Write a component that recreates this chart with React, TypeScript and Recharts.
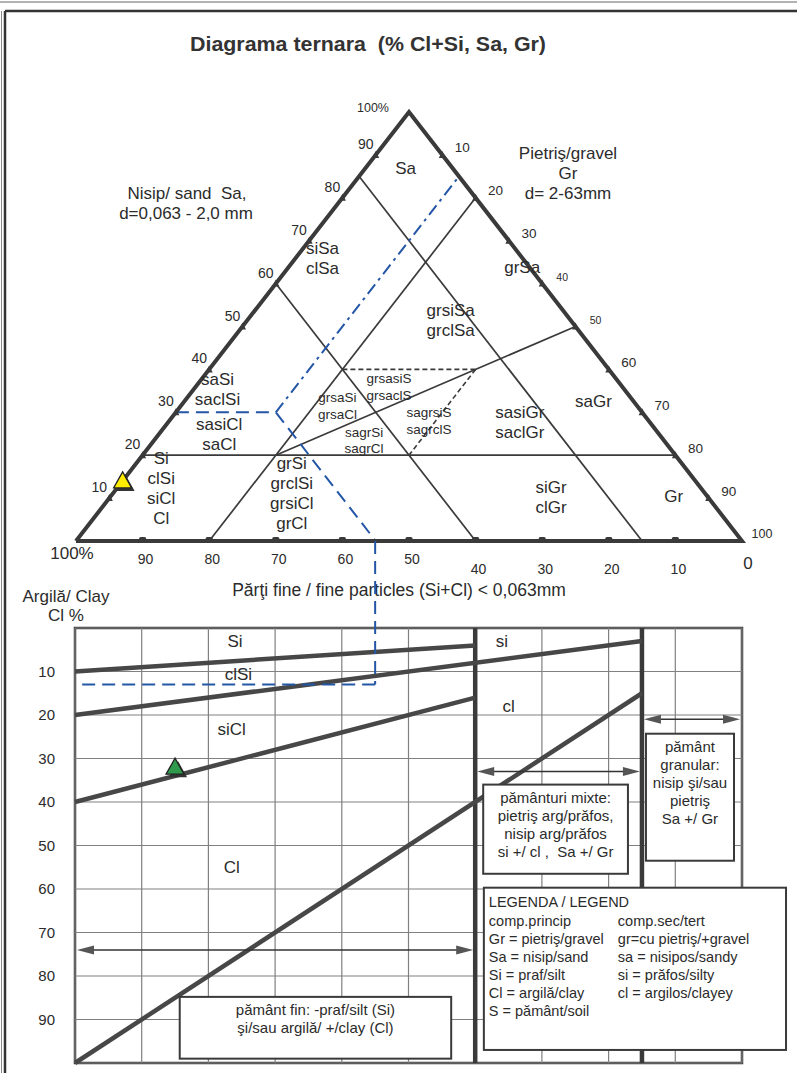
import React from 'react';
import {
  ComposedChart,
  Line,
  Scatter,
  XAxis,
  YAxis,
  ReferenceLine,
  ReferenceArea,
} from 'recharts';

const W = 797;
const H = 1073;
const FONT = '"Liberation Sans", Arial, Helvetica, sans-serif';
const INK = '#3a3a3a';
const TEXT = '#2b2b2b';
const GRID = '#808080';
const BLUE = '#2456a6';

// plot areas of the two diagrams (pixels)
const TRI = { left: 76, right: 742, top: 112, bottom: 541 };
const LOW = { left: 75, right: 742, top: 628, bottom: 1063 };

// ---------- ternary diagram, points are [fines Si+Cl %, sand Sa %, gravel Gr %]
type Tern = [number, number, number];

const triangleOutline: Tern[] = [[100, 0, 0], [0, 100, 0], [0, 0, 100], [100, 0, 0]];

const ternaryBounds: Tern[][] = [
  [[80, 20, 0], [0, 20, 80]], // Sa = 20
  [[80, 0, 20], [0, 80, 20]], // Gr = 20
  [[40, 60, 0], [40, 0, 60]], // Si+Cl = 40
  [[15, 85, 0], [15, 0, 85]], // Si+Cl = 15
  [[60, 20, 20], [0, 50, 50]], // Sa = Gr
];

const ternaryDashed: Tern[][] = [
  [[40, 40, 20], [20, 40, 40]],
  [[20, 40, 40], [40, 20, 40]],
];

// blue reading guides for the example sample
const guideDashDot: Tern[] = [[55, 30, 15], [0, 85, 15]];
const guideDashed: Tern[] = [[70, 30, 0], [55, 30, 15], [55, 0, 45]];
const sampleTernary: Tern[] = [[86, 14, 0]];

const edgeTicks = [10, 20, 30, 40, 50, 60, 70, 80, 90];
const gravelLabels = [10, 20, 30, 40, 50, 60, 70, 80, 90, 100];

const ternaryZones = [
  { at: [7, 87, 6] as Tern, lines: ['Sa'] },
  { at: [30, 66, 4] as Tern, lines: ['siSa', 'clSa'] },
  { at: [1, 64, 35] as Tern, lines: ['grSa'] },
  { at: [18, 51.5, 30.5] as Tern, lines: ['grsiSa', 'grclSa'] },
  { at: [61, 35.5, 3.5] as Tern, lines: ['saSi', 'saclSi'] },
  { at: [66, 25, 9] as Tern, lines: ['sasiCl', 'saCl'] },
  { at: [19.5, 27.7, 52.8] as Tern, lines: ['sasiGr', 'saclGr'] },
  { at: [6, 32.6, 61.4] as Tern, lines: ['saGr'] },
  { at: [81, 12.4, 6.6] as Tern, lines: ['Si', 'clSi', 'siCl', 'Cl'] },
  { at: [62, 11.2, 26.8] as Tern, lines: ['grSi', 'grclSi', 'grsiCl', 'grCl'] },
  { at: [23.5, 10.3, 66.2] as Tern, lines: ['siGr', 'clGr'] },
  { at: [5, 10.5, 84.5] as Tern, lines: ['Gr'] },
];

const ternaryMinorZones = [
  { at: [45, 31.5, 23.5] as Tern, lines: ['grsaSi', 'grsaCl'] },
  { at: [35, 36, 29] as Tern, lines: ['grsasiS', 'grsaclS'] },
  { at: [33, 28, 39] as Tern, lines: ['sagrsiS', 'sagrclS'] },
  { at: [45, 23.5, 31.5] as Tern, lines: ['sagrSi', 'sagrCl'] },
];

// ---------- lower diagram, points are [fines Si+Cl %, clay Cl %]
type Pt = [number, number];

const clayBounds: Pt[][] = [
  [[100, 10], [40, 4]],
  [[100, 20], [15, 3]],
  [[100, 40], [40, 16]],
  [[100, 100], [15, 15]],
];
const groupDividers = [40, 15];
const gridSteps = [0, 10, 20, 30, 40, 50, 60, 70, 80, 90, 100];
const clayTicks = [10, 20, 30, 40, 50, 60, 70, 80, 90];
const sampleClay: Pt[] = [[85, 32]];
const guideClay: Pt[] = [[55, 13], [99, 13]];

const spanArrows = [
  { from: 15, to: 0, clay: 21 },
  { from: 40, to: 15, clay: 33 },
  { from: 100, to: 40, clay: 74 },
];

const clayZones = [
  { at: [76, 3] as Pt, lines: ['Si'] },
  { at: [75.5, 10.5] as Pt, lines: ['clSi'] },
  { at: [76.5, 23.3] as Pt, lines: ['siCl'] },
  { at: [76.5, 55] as Pt, lines: ['Cl'] },
  { at: [36, 3] as Pt, lines: ['si'] },
  { at: [35, 18] as Pt, lines: ['cl'] },
];

const noteBoxes = [
  { fines: [38.8, 17.1], clay: [36, 56.5], lines: ['pământuri mixte:', 'pietriş arg/prăfos,', 'nisip arg/prăfos', 'si +/ cl ,  Sa +/ Gr'] },
  { fines: [14.4, 1.2], clay: [24.3, 53.5], lines: ['pământ', 'granular:', 'nisip şi/sau', 'pietriş', 'Sa +/ Gr'] },
  { fines: [84.3, 43.6], clay: [84.8, 99], lines: ['pământ fin: -praf/silt (Si)', 'şi/sau argilă/ +/clay (Cl)'] },
];

const legendBox = { fines: [38.7, -6.6], clay: [59.7, 97] };
const legendTitle = 'LEGENDA / LEGEND';
const legendRows = [
  ['comp.princip', 'comp.sec/tert'],
  ['Gr = pietriş/gravel', 'gr=cu pietriş/+gravel'],
  ['Sa = nisip/sand', 'sa = nisipos/sandy'],
  ['Si = praf/silt', 'si = prăfos/silty'],
  ['Cl = argilă/clay', 'cl = argilos/clayey'],
  ['S = pământ/soil', ''],
];

// ---------- helpers
const toXY = ([, sa, gr]: Tern) => ({ x: gr + sa / 2, y: sa });
const path = (pts: Tern[]) => pts.map(toXY);
const flat = (pts: Pt[]) => pts.map(([x, y]) => ({ x, y }));
const connectorClay = ((TRI.bottom - LOW.top) / (LOW.bottom - LOW.top)) * 100;

const leftTicks = edgeTicks.map((v) => ({ ...toXY([100 - v, v, 0]), label: String(v), v }));
const baseTicks = edgeTicks.map((v) => ({ ...toXY([v, 0, 100 - v]), label: String(v), v }));
const rightTicks = edgeTicks.map((v) => ({ ...toXY([0, 100 - v, v]), label: String(v), v }));
const rightLabels = gravelLabels.map((v) => ({ ...toXY([0, 100 - v, v]), label: String(v), v }));

const txt = { fontFamily: FONT, fill: TEXT };

function ZoneText(props: any) {
  const { cx, cy, payload, size, gap } = props;
  const lines: string[] = payload.lines;
  const top = cy - ((lines.length - 1) * gap) / 2;
  return (
    <text textAnchor="middle" fontSize={size} {...txt}>
      {lines.map((t, i) => (
        <tspan key={i} x={cx} y={top + i * gap} dy="0.36em">
          {t}
        </tspan>
      ))}
    </text>
  );
}

function EdgeMark(props: any) {
  const { cx, cy } = props;
  return <polygon points={`${cx - 3.5},${cy + 3} ${cx + 3.5},${cy + 3} ${cx},${cy - 4}`} fill={INK} />;
}

function BaseMark(props: any) {
  const { cx, cy } = props;
  return <rect x={cx - 3.5} y={cy - 4} width={7} height={5} rx={1.5} fill={INK} />;
}

const tickText = (dx: number, dy: (v: number) => number, size: (v: number) => number) => (props: any) => (
  <text
    x={props.cx + dx}
    y={props.cy + dy(props.payload.v)}
    textAnchor="middle"
    dominantBaseline="central"
    fontSize={size(props.payload.v)}
    {...txt}
  >
    {props.payload.label}
  </text>
);

const cornerText = (label: string, dx: number, dy: number, size: number) => (props: any) => (
  <text x={props.cx + dx} y={props.cy + dy} textAnchor="middle" dominantBaseline="central" fontSize={size} {...txt}>
    {label}
  </text>
);

function Marker(props: any) {
  const { cx, cy, color } = props;
  const tri = (dx: number, dy: number) =>
    `${cx + dx - 9},${cy + dy + 7} ${cx + dx + 9},${cy + dy + 7} ${cx + dx},${cy + dy - 9}`;
  return (
    <g>
      <polygon points={tri(3, 3)} fill="#333" />
      <polygon points={tri(0, 0)} fill={color} stroke="#222" strokeWidth={1.3} />
    </g>
  );
}

function DoubleArrow(props: any) {
  const { x1, y1, x2 } = props;
  const l = Math.min(x1, x2) + 2;
  const r = Math.max(x1, x2) - 2;
  const y = y1;
  const head = 17;
  return (
    <g>
      <line x1={l + head - 2} y1={y} x2={r - head + 2} y2={y} stroke="#333" strokeWidth={1.5} />
      <polygon points={`${l},${y} ${l + head},${y - 4.5} ${l + head},${y + 4.5}`} fill="#555" />
      <polygon points={`${r},${y} ${r - head},${y - 4.5} ${r - head},${y + 4.5}`} fill="#555" />
    </g>
  );
}

const noteShape = (lines: string[]) => (props: any) => {
  const { x, y, width, height } = props;
  return (
    <g>
      <rect x={x} y={y} width={width} height={height} fill="#fff" stroke={INK} strokeWidth={2} />
      <text textAnchor="middle" fontSize={15} {...txt}>
        {lines.map((t, i) => (
          <tspan key={i} x={x + width / 2} y={y + 13 + i * 18} dy="0.36em" style={{ whiteSpace: 'pre' }}>
            {t}
          </tspan>
        ))}
      </text>
    </g>
  );
};

function LegendShape(props: any) {
  const { x, y, width, height } = props;
  return (
    <g>
      <rect x={x} y={y} width={width} height={height} fill="#fff" stroke={INK} strokeWidth={2} />
      <text x={x + 5} y={y + 14} dy="0.36em" fontSize={14.5} {...txt}>
        {legendTitle}
      </text>
      {legendRows.map((row, i) => (
        <g key={i}>
          <text x={x + 5} y={y + 33 + i * 18} dy="0.36em" fontSize={14.5} {...txt}>
            {row[0]}
          </text>
          <text x={x + 134} y={y + 33 + i * 18} dy="0.36em" fontSize={14.5} {...txt}>
            {row[1]}
          </text>
        </g>
      ))}
    </g>
  );
}

function TernaryChart() {
  const lineProps = { type: 'linear' as const, dataKey: 'y', dot: false, activeDot: false, isAnimationActive: false };
  return (
    <ComposedChart
      width={W}
      height={H}
      margin={{ top: TRI.top, right: W - TRI.right, bottom: H - TRI.bottom, left: TRI.left }}
    >
      <XAxis type="number" dataKey="x" domain={[0, 100]} hide />
      <YAxis type="number" dataKey="y" domain={[0, 100]} hide />
      {ternaryBounds.map((seg, i) => (
        <Line key={`b${i}`} {...lineProps} data={path(seg)} stroke={INK} strokeWidth={1.7} />
      ))}
      {ternaryDashed.map((seg, i) => (
        <Line key={`d${i}`} {...lineProps} data={path(seg)} stroke={INK} strokeWidth={1.6} strokeDasharray="5 3" />
      ))}
      <Line {...lineProps} data={path(guideDashDot)} stroke={BLUE} strokeWidth={2} strokeDasharray="12 5 3 5" />
      <Line {...lineProps} data={path(guideDashed)} stroke={BLUE} strokeWidth={2} strokeDasharray="13 7" />
      <Line {...lineProps} data={path(triangleOutline)} stroke={INK} strokeWidth={4} strokeLinejoin="miter" />

      <Scatter data={leftTicks} shape={EdgeMark} isAnimationActive={false} />
      <Scatter data={rightTicks} shape={EdgeMark} isAnimationActive={false} />
      <Scatter data={baseTicks} shape={BaseMark} isAnimationActive={false} />
      <Scatter data={leftTicks} shape={tickText(-10, () => -11, () => 14)} isAnimationActive={false} />
      <Scatter
        data={rightLabels}
        shape={tickText(20, () => -7, (v) => (v === 40 || v === 50 ? 10.5 : v === 100 ? 12.5 : 13.5))}
        isAnimationActive={false}
      />
      <Scatter data={baseTicks} shape={tickText(3, (v) => (v >= 50 ? 18 : 28), () => 14)} isAnimationActive={false} />
      <Scatter data={path([[0, 100, 0]])} shape={cornerText('100%', -36, -4, 12.5)} isAnimationActive={false} />
      <Scatter data={path([[100, 0, 0]])} shape={cornerText('100%', -4, 12, 17)} isAnimationActive={false} />
      <Scatter data={path([[0, 0, 100]])} shape={cornerText('0', 6, 22, 17)} isAnimationActive={false} />

      <Scatter
        data={ternaryZones.map((z) => ({ ...toXY(z.at), lines: z.lines }))}
        shape={(p: any) => <ZoneText {...p} size={17} gap={20} />}
        isAnimationActive={false}
      />
      <Scatter
        data={ternaryMinorZones.map((z) => ({ ...toXY(z.at), lines: z.lines }))}
        shape={(p: any) => <ZoneText {...p} size={13.5} gap={16.5} />}
        isAnimationActive={false}
      />
      <Scatter data={path(sampleTernary)} shape={(p: any) => <Marker {...p} color="#ffec00" />} isAnimationActive={false} />
    </ComposedChart>
  );
}

function ClayChart() {
  const lineProps = { type: 'linear' as const, dataKey: 'y', dot: false, activeDot: false, isAnimationActive: false };
  return (
    <ComposedChart
      width={W}
      height={H}
      margin={{ top: LOW.top, right: W - LOW.right, bottom: H - LOW.bottom, left: LOW.left - 50 }}
    >
      <XAxis type="number" dataKey="x" domain={[0, 100]} reversed hide />
      <YAxis
        type="number"
        dataKey="y"
        domain={[0, 100]}
        reversed
        ticks={clayTicks}
        interval={0}
        width={50}
        axisLine={false}
        tickLine={false}
        tickSize={0}
        tickMargin={20}
        tick={{ fontSize: 15, fill: TEXT, fontFamily: FONT }}
      />
      {gridSteps.map((v) => (
        <ReferenceLine key={`gx${v}`} x={v} stroke={GRID} strokeWidth={1.2} ifOverflow="visible" />
      ))}
      {gridSteps.map((v) => (
        <ReferenceLine key={`gy${v}`} y={v} stroke={GRID} strokeWidth={1.2} ifOverflow="visible" />
      ))}
      <ReferenceArea x1={100} x2={0} y1={0} y2={100} fill="none" fillOpacity={0} stroke={INK} strokeWidth={2.5} ifOverflow="visible" />
      {groupDividers.map((v) => (
        <ReferenceLine key={`div${v}`} x={v} stroke={INK} strokeWidth={4.5} ifOverflow="visible" />
      ))}
      {clayBounds.map((seg, i) => (
        <Line key={`c${i}`} {...lineProps} data={flat(seg)} stroke="#474747" strokeWidth={4.5} />
      ))}
      <ReferenceLine
        segment={[{ x: guideClay[0][0], y: connectorClay }, { x: guideClay[0][0], y: guideClay[0][1] }]}
        stroke={BLUE}
        strokeWidth={2}
        strokeDasharray="13 7"
        ifOverflow="visible"
      />
      <ReferenceLine
        segment={[{ x: guideClay[0][0], y: guideClay[0][1] }, { x: guideClay[1][0], y: guideClay[1][1] }]}
        stroke={BLUE}
        strokeWidth={2}
        strokeDasharray="13 7"
        ifOverflow="visible"
      />
      {spanArrows.map((a, i) => (
        <ReferenceLine
          key={`a${i}`}
          segment={[{ x: a.from, y: a.clay }, { x: a.to, y: a.clay }]}
          shape={DoubleArrow}
          ifOverflow="visible"
        />
      ))}
      <Scatter
        data={clayZones.map((z) => ({ x: z.at[0], y: z.at[1], lines: z.lines }))}
        shape={(p: any) => <ZoneText {...p} size={17} gap={20} />}
        isAnimationActive={false}
      />
      {noteBoxes.map((b, i) => (
        <ReferenceArea
          key={`n${i}`}
          x1={b.fines[0]}
          x2={b.fines[1]}
          y1={b.clay[0]}
          y2={b.clay[1]}
          shape={noteShape(b.lines)}
          ifOverflow="visible"
          zIndex={900}
        />
      ))}
      <ReferenceArea
        x1={legendBox.fines[0]}
        x2={legendBox.fines[1]}
        y1={legendBox.clay[0]}
        y2={legendBox.clay[1]}
        shape={LegendShape}
        ifOverflow="visible"
        zIndex={900}
      />
      <Scatter data={flat(sampleClay)} shape={(p: any) => <Marker {...p} color="#2f9a4c" />} isAnimationActive={false} />
    </ComposedChart>
  );
}

export default function App() {
  const t = { fontFamily: FONT, fill: TEXT, textAnchor: 'middle' as const, dominantBaseline: 'central' as const };
  return (
    <div style={{ position: 'absolute', left: 0, top: 0, width: W, height: H, background: '#fff', overflow: 'hidden' }}>
      <svg width={W} height={H} style={{ position: 'absolute', left: 0, top: 0 }}>
        <line x1={0} y1={2} x2={W} y2={2} stroke="#666" strokeWidth={1} />
        <line x1={5} y1={11} x2={W} y2={11} stroke="#333" strokeWidth={2.5} />
        <line x1={5} y1={11} x2={5} y2={H} stroke="#333" strokeWidth={2.5} />
        <line x1={1.5} y1={11} x2={1.5} y2={H} stroke="#888" strokeWidth={1} />
        <text x={368} y={44} {...t} fontSize={20} fontWeight="bold" fill="#333" textLength={356} lengthAdjust="spacingAndGlyphs" style={{ whiteSpace: 'pre' }}>
          Diagrama ternara  (% Cl+Si, Sa, Gr)
        </text>
        <text x={187} y={193} {...t} fontSize={17} style={{ whiteSpace: 'pre' }}>
          Nisip/ sand  Sa,
        </text>
        <text x={186} y={213} {...t} fontSize={17}>
          d=0,063 - 2,0 mm
        </text>
        <text x={568} y={153} {...t} fontSize={17}>
          Pietriş/gravel
        </text>
        <text x={568} y={173} {...t} fontSize={17}>
          Gr
        </text>
        <text x={568} y={193} {...t} fontSize={17}>
          d= 2-63mm
        </text>
        <text x={399} y={590} {...t} fontSize={17.5}>
          Părţi fine / fine particles (Si+Cl) &lt; 0,063mm
        </text>
        <text x={66} y={596} {...t} fontSize={17}>
          Argilă/ Clay
        </text>
        <text x={66} y={615} {...t} fontSize={17}>
          Cl %
        </text>
      </svg>
      <div style={{ position: 'absolute', left: 0, top: 0 }}>
        <TernaryChart />
      </div>
      <div style={{ position: 'absolute', left: 0, top: 0 }}>
        <ClayChart />
      </div>
    </div>
  );
}
